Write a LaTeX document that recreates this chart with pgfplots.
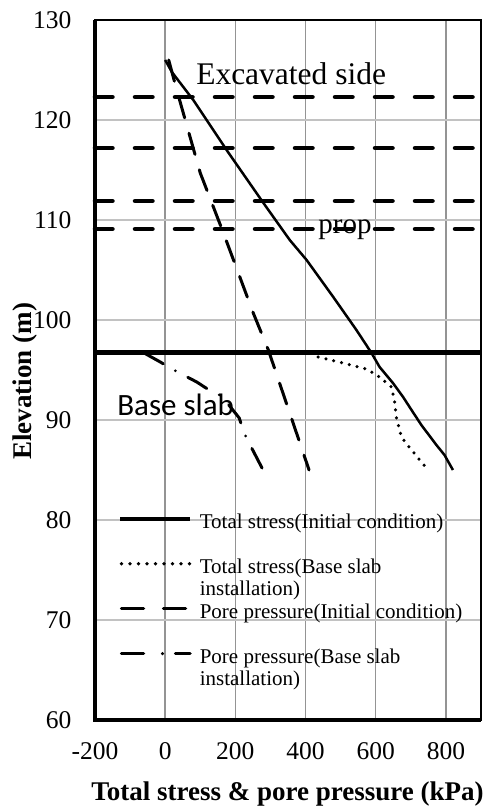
\documentclass[border=0pt]{standalone}
\usepackage{pgfplots}
\pgfplotsset{compat=1.18}
\usepackage{fontspec}
\setmainfont{Liberation Serif}
\newfontfamily\carlito{Carlito}

\definecolor{vgrid}{gray}{0.58}
\definecolor{hgrid}{gray}{0.76}

% legend texts: every entry has the height of one line, a second line hangs below
\newcommand{\entry}[1]{\raisebox{0pt}[15.4bp][6.6bp]{\begin{tabular}[t]{@{}l@{}}#1\end{tabular}}}

\begin{document}
\begin{tikzpicture}
\begin{axis}[
  at={(0,0)}, anchor=south west,
  scale only axis, width=386bp, height=700bp,
  xmin=-200, xmax=900, ymin=60, ymax=130,
  clip=false,
  xtick={-200,0,200,400,600,800},
  xticklabels={-200,0,200,400,600,800},
  ytick={60,70,80,90,100,110,120,130},
  yticklabels={60,70,80,90,100,110,120,130},
  major tick length=0pt,
  ticklabel style={font=\fontsize{25.5bp}{25.5bp}\selectfont},
  xticklabel style={yshift=-19bp},
  yticklabel style={xshift=-20bp},
  xmajorgrids, ymajorgrids,
  x grid style={vgrid, line width=1.4bp},
  y grid style={hgrid, line width=1.4bp},
  axis line style={line width=1.5bp},
  xlabel={\bfseries Total stress \& pore pressure (kPa)},
  ylabel={\bfseries Elevation (m)},
  label style={font=\fontsize{27bp}{27bp}\selectfont},
  xlabel style={at={(axis description cs:0.4987,-0.1143)}, anchor=base},
  ylabel style={at={(axis description cs:-0.164,0.484)}, anchor=base},
  legend cell align=left,
  legend style={at={(axis cs:-133.7,80.7)}, anchor=north west,
    draw=none, fill=none, inner sep=0pt, outer sep=0pt,
    row sep=28bp, column sep=8bp,
    nodes={inner sep=0pt, outer sep=0pt},
    font=\fontsize{21bp}{22bp}\selectfont},
]

% excavation levels and props
\addplot[forget plot, black, line width=4.5bp, line cap=round, dash pattern=on 17.5bp off 22.5bp]
  coordinates {(-200,122.3) (900,122.3)};
\addplot[forget plot, black, line width=4.5bp, line cap=round, dash pattern=on 17.5bp off 22.5bp]
  coordinates {(-200,117.2) (900,117.2)};
\addplot[forget plot, black, line width=4.5bp, line cap=round, dash pattern=on 17.5bp off 22.5bp]
  coordinates {(-200,111.9) (900,111.9)};
\addplot[forget plot, black, line width=4.5bp, line cap=round, dash pattern=on 17.5bp off 22.5bp]
  coordinates {(-200,109.1) (900,109.1)};
% base slab level
\addplot[forget plot, black, line width=5bp]
  coordinates {(-200,96.8) (900,96.8)};

% total stress, initial condition
\addplot[black, line width=2.5bp, line join=round,
  legend image code/.code={\draw[black, line width=3.5bp] (0bp,2.6bp) -- (70bp,2.6bp);}]
  coordinates {
  (0,126) (19,124.8) (80,122) (175,117) (280,111.7) (355,108) (403,106)
  (479,102.3) (545,99) (588,96.7) (611,95.3) (649,93.7) (678,92.3)
  (702,91) (730,89.5) (773,87.5) (796,86.5) (820,85)};
\addlegendentry{\entry{Total stress(Initial condition)}}

% total stress, after base slab installation
\addplot[black, line width=3.5bp, line cap=round, dash pattern=on 0bp off 8bp,
  legend image code/.code={\draw[black, line width=3.6bp, line cap=round, dash pattern=on 0bp off 8.5bp] (1.5bp,2.6bp) -- (70bp,2.6bp);}]
  coordinates {
  (436,96.3) (507,95.7) (574,95.1) (611,94.3) (645,93.3) (654,91.8)
  (659,90.2) (673,88.3) (702,87) (749,85)};
\addlegendentry{\entry{Total stress(Base slab\\installation)}}

% pore pressure, initial condition
\addplot[black, line width=3bp, line cap=round, dash pattern=on 22bp off 16bp,
  legend image code/.code={\draw[black, line width=3.5bp, line cap=round, dash pattern=on 22bp off 20bp] (1.5bp,2.6bp) -- (70bp,2.6bp);}]
  coordinates {
  (10,126) (33,123) (100,114.7) (166,108.7) (251,100.7) (294,97) (410,85)};
\addlegendentry{\entry{Pore pressure(Initial condition)}}

% pore pressure, after base slab installation
\addplot[black, line width=3bp, line cap=round, dash pattern=on 22bp off 14bp on 0bp off 14bp,
  legend image code/.code={\draw[black, line width=3.5bp, line cap=round, dash pattern=on 22bp off 19bp on 0bp off 13bp] (1.5bp,2.6bp) -- (70bp,2.6bp);}]
  coordinates {
  (-60,96.7) (-14,95.8) (19,95.1) (90,93.8) (125,93) (161,92.4) (211,90.2)
  (225,88.7) (242,87.5) (279,85)};
\addlegendentry{\entry{Pore pressure(Base slab\\installation)}}

% heavier left and bottom axis lines
\draw[black, line width=3.5bp] (rel axis cs:0,1) -- (rel axis cs:0,0) -- (rel axis cs:1,0);

\node[anchor=base west, inner sep=0pt, font=\fontsize{31.5bp}{31.5bp}\selectfont]
  at (axis cs:88,123.6) {Excavated side};
\node[anchor=base west, inner sep=0pt, font=\fontsize{29bp}{29bp}\selectfont]
  at (axis cs:436,108.67) {prop};
\node[anchor=base west, inner sep=0pt, font=\carlito\fontsize{31bp}{31bp}\selectfont]
  at (axis cs:-137,90.5) {Base slab};
\end{axis}
\pgfresetboundingbox
\path[use as bounding box] (-95bp,-89bp) rectangle (393bp,720bp);
\end{tikzpicture}
\end{document}
